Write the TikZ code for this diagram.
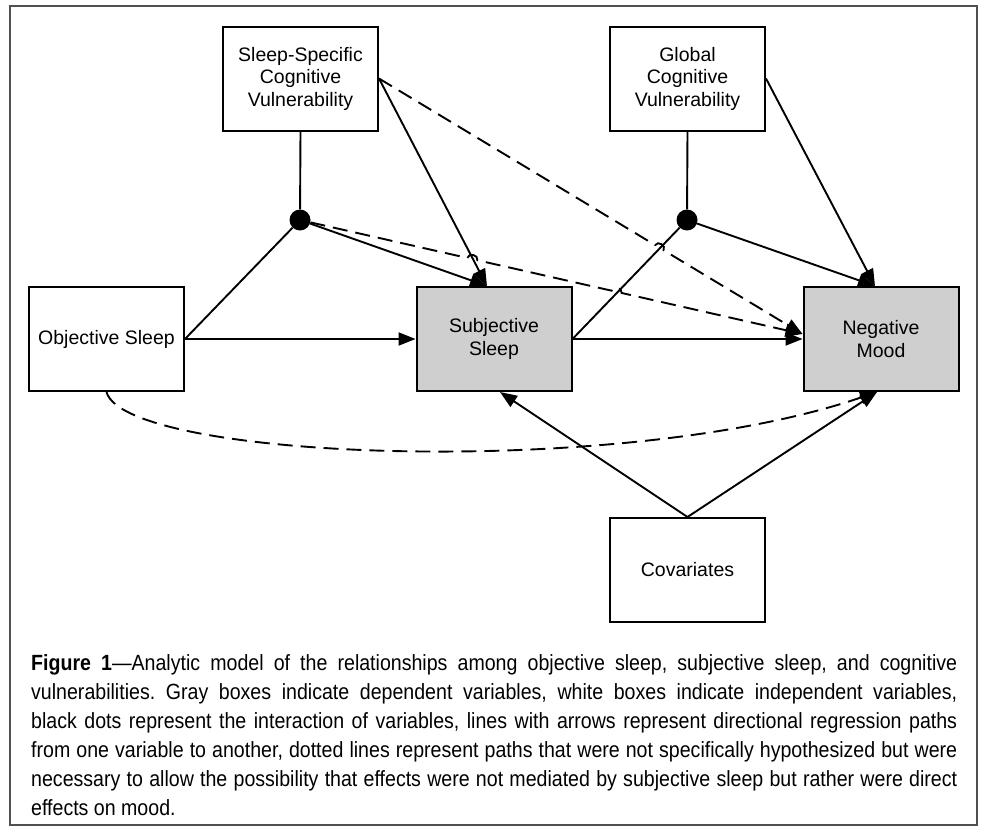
\documentclass[tikz,border=0pt]{standalone}
\usepackage{fontspec}
\setmainfont{Liberation Sans}
\newfontfamily\capfont[FakeStretch=0.89]{Liberation Sans}
\usetikzlibrary{arrows.meta,calc}
\definecolor{boxgray}{HTML}{CFCFCF}
\definecolor{framegray}{HTML}{505050}
\frenchspacing
\begin{document}
\begin{tikzpicture}[x=1pt,y=-1pt,
  box/.style={draw=black,line width=2pt,minimum width=155pt,minimum height=104pt,inner sep=0pt,align=center,font=\fontsize{19.5}{22.5}\selectfont},
  dep/.style={box,fill=boxgray},
  dot/.style={circle,fill=black,minimum size=21pt,inner sep=0pt},
  conn/.style={line width=1.9pt},
  arr/.style={conn,-{Triangle[length=17pt,width=13pt]}},
  dsh/.style={line width=1.9pt,dash pattern=on 15pt off 8pt},
  darr/.style={dsh,-{Triangle[length=17pt,width=13pt]}},
  hop/.style={bend left=90,looseness=1.4}]
\path[use as bounding box] (0,0) rectangle (983,827);
\draw[framegray,line width=1.6pt] (10,6) rectangle (977,825);
\node[box] (ss) at (300.5,78.5) {Sleep-Specific\\Cognitive\\Vulnerability};
\node[box] (gc) at (687.5,78.5) {Global\\Cognitive\\Vulnerability};
\node[box] (obj) at (106.5,339) {Objective Sleep};
\node[dep] (subj) at (494,339) {Subjective\\Sleep};
\node[dep] (neg) at (881,339) {Negative\\Mood};
\node[box] (cov) at (687.5,570) {Covariates};
\node[dot] (d1) at (300,220) {};
\node[dot] (d2) at (687,220) {};
\coordinate (st) at ($(subj.north)+(-7,0)$);
\coordinate (sb) at ($(subj.south)+(6,0)$);
\coordinate (nt) at ($(neg.west)+(0,-5)$);
\coordinate (ntop) at ($(neg.north)+(-6,0)$);
\coordinate (nb) at ($(neg.south)+(-4,0)$);
% solid connectors
\draw[conn] (ss.south) -- (d1);
\draw[conn] (gc.south) -- (d2);
\draw[conn] (obj.east) -- (d1);
\draw[conn] (subj.east) -- (d2);
\draw[arr] (obj.east) -- (subj.west);
\draw[arr] (d1) -- (st);
\draw[arr] (ss.east) -- (st);
\draw[arr] (subj.east) -- (neg.west);
\draw[arr] (d2) -- (ntop);
\draw[arr] (gc.east) -- (ntop);
\draw[arr] (cov.north) -- (sb);
\draw[arr] (cov.north) -- (nb);
% dashed connectors
\draw[darr] (ss.east) -- ($(ss.east)!0.652!(nt)$) to[hop] ($(ss.east)!0.672!(nt)$) -- (nt);
\draw[darr] (d1) -- ($(d1)!0.333!(nt)$) to[hop] ($(d1)!0.353!(nt)$) -- ($(d1)!0.620!(nt)$) to[hop] ($(d1)!0.640!(nt)$) -- (nt);
\draw[darr] (obj.south) .. controls (125,460) and (620,480) .. (nb);
% caption
\node[anchor=north west,inner sep=0pt,text width=926pt,align=justify,font=\capfont\fontsize{22}{29}\selectfont] (cap) at (31,654)
{\textbf{Figure 1}—Analytic model of the relationships among objective sleep, subjective sleep, and cognitive\linebreak
vulnerabilities. Gray boxes indicate dependent variables, white boxes indicate independent variables,\linebreak
black dots represent the interaction of variables, lines with arrows represent directional regression paths\linebreak
from one variable to another, dotted lines represent paths that were not specifically hypothesized but were\linebreak
necessary to allow the possibility that effects were not mediated by subjective sleep but rather were direct\linebreak
effects on mood.};
\end{tikzpicture}
\end{document}
